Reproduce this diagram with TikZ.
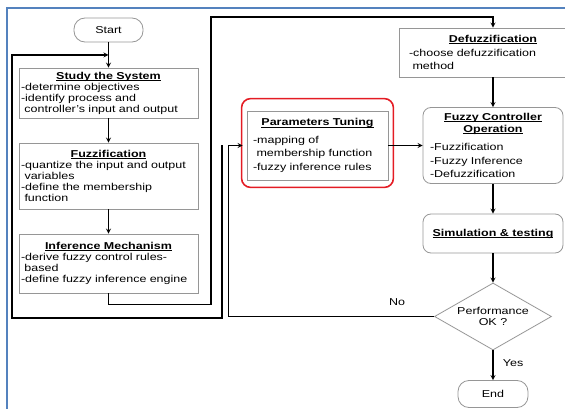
\documentclass[tikz,border=0pt]{standalone}
\usepackage{fontspec}
\setmainfont{Liberation Sans}[FakeStretch=1.25]
\usetikzlibrary{shapes.geometric,fit,positioning}
\definecolor{boxgray}{RGB}{150,150,150}
\definecolor{framered}{RGB}{228,28,36}
\definecolor{frameblue}{RGB}{84,130,190}
% bold underlined heading of a step
\newcommand{\steplabel}[1]{\leavevmode\setbox0=\hbox{\bfseries#1}\rlap{\rule[-1.6pt]{\wd0}{0.7pt}}\box0}
\newcommand{\steptitle}[2][0pt]{{\centering#2\par}\vspace{#1}}
\newcommand{\indentline}{\leavevmode\kern3.5pt}

\begin{document}
\begin{tikzpicture}[
            x = 1pt, y = -1pt,
            > = stealth, % arrow head style
            font = \fontsize{10}{11}\selectfont,
            flow/.style = {->, line width=1.2pt, black},
            stepbox/.style = {draw=boxgray, line width=0.8pt, align=left, inner xsep=2pt, inner ysep=0pt},
            widebox/.style = {stepbox, font=\fontsize{10}{13.5}\selectfont},
            roundbox/.style = {widebox, rounded corners=8pt},
            terminal/.style = {draw=boxgray, line width=0.8pt, rounded corners=11pt, minimum width=69pt, minimum height=24pt, inner sep=0pt},
            decision/.style = {diamond, draw=boxgray, line width=0.8pt, aspect=1.75, minimum width=117pt, minimum height=67pt, inner sep=0pt, align=center}
        ]
\useasboundingbox (0,0) rectangle (565,409);

\draw[frameblue, line width=1.4pt] (7,409) -- (7,8) -- (565,8);

\node[terminal] (start) at (108.5,30) {Start};
\node[stepbox, text width=175pt, minimum width=179pt, minimum height=50pt] (study) at (108.5,93)
  {\steptitle{\steplabel{Study the System}}-determine objectives\\-identify process and\\\indentline controller's input and output};
\node[stepbox, text width=175pt, minimum width=179pt, minimum height=66pt] (fuzz) at (108.5,176)
  {\steptitle{\steplabel{Fuzzification}}-quantize the input and output\\\indentline variables\\-define the membership\\\indentline function};
\node[stepbox, text width=175pt, minimum width=179pt, minimum height=59pt] (infer) at (108.5,263.5)
  {\steptitle{\steplabel{Inference Mechanism}}-derive fuzzy control rules-\\\indentline based\\-define fuzzy inference engine};

\node[widebox, inner xsep=10pt, text width=168pt, minimum width=188pt, minimum height=49pt] (defuzz) at (493,52.5)
  {\steptitle{\steplabel{Defuzzification}}-choose defuzzification\\\indentline method};
\node[widebox, inner xsep=6pt, text width=129pt, minimum width=141pt, minimum height=69pt] (tuning) at (317.5,145.5)
  {\steptitle[4pt]{\steplabel{Parameters Tuning}}-mapping of\\\indentline membership function\\-fuzzy inference rules};
\node[draw=framered, line width=1.6pt, rounded corners=9pt, fit=(tuning), inner xsep=5pt, inner ysep=9.5pt, yshift=2.5pt] (tuneframe) {};
\node[roundbox, inner xsep=7pt, text width=126pt, minimum width=140pt, minimum height=76pt] (fco) at (493,145.5)
  {\steptitle[5pt]{\steplabel{Fuzzy Controller}\par\vspace{-1.5pt}\steplabel{Operation}}-Fuzzification\\-Fuzzy Inference\\-Defuzzification};
\node[roundbox, align=center, minimum width=140pt, minimum height=39pt] (sim) at (493,233.5) {\steplabel{Simulation \& testing}};
\node[decision] (perf) at (493,316.5) {Performance\\OK ?};
\node[terminal, minimum width=70pt, minimum height=27pt] (end) at (493,394) {End};

\coordinate (entry) at (108.5,55);
\coordinate (split) at (222,145.5);

\draw[flow] (start) -- (study);
\draw[flow] (study) -- (fuzz);
\draw[flow] (fuzz) -- (infer);
\draw[flow] (infer.south) -- ++(0,11) -| (211,17) -| (defuzz);
\draw[flow] (defuzz) -- (fco);
\draw[flow] (tuning) -- (fco);
\draw[flow] (fco) -- (sim);
\draw[flow] (sim) -- (perf);
\draw[flow] (perf) -- node[right=6pt, pos=0.43] {Yes} (end);
\draw[flow, shorten >=4pt] (perf.west) -- node[above=7pt, pos=0.18] {No} ++(-206,0) |- (tuning.west);
\draw[flow] (split) |- (12,318) |- (entry);
\end{tikzpicture}
\end{document}
